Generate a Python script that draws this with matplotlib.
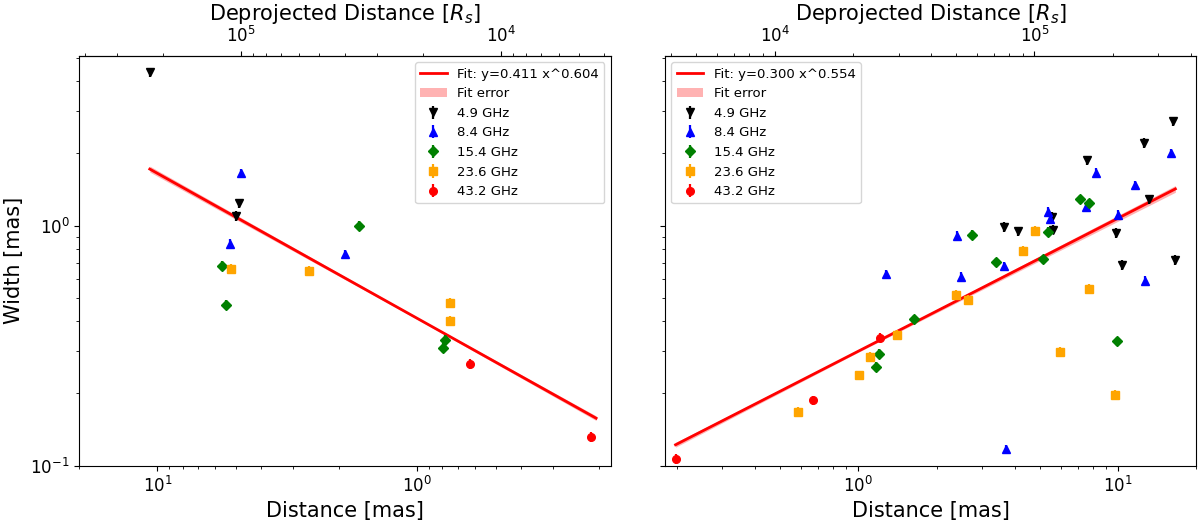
import matplotlib
matplotlib.use("Agg")
import matplotlib.pyplot as plt
import numpy as np
from matplotlib.ticker import NullFormatter, LogLocator

RS_PER_MAS = 2.1e4

freqs = ["4.9 GHz", "8.4 GHz", "15.4 GHz", "23.6 GHz", "43.2 GHz"]
colors = ["black", "blue", "green", "orange", "red"]
markers = ["v", "^", "D", "s", "o"]

# left panel (counter-jet side)
cj_dist = {
    "4.9 GHz": [10.7, 4.85, 5.0],
    "8.4 GHz": [4.78, 5.25, 1.89],
    "15.4 GHz": [5.62, 5.46, 1.68, 0.794, 0.78],
    "23.6 GHz": [5.19, 2.6, 0.746, 0.746],
    "43.2 GHz": [0.625, 0.214],
}
cj_width = {
    "4.9 GHz": [4.35, 1.24, 1.10],
    "8.4 GHz": [1.65, 0.839, 0.76],
    "15.4 GHz": [0.681, 0.469, 1.0, 0.31, 0.335],
    "23.6 GHz": [0.66, 0.65, 0.478, 0.402],
    "43.2 GHz": [0.266, 0.132],
}
cj_fit = (0.411, 0.604)
cj_fit_err = (0.004, 0.008)
cj_fit_range = (10.7, 0.205)

# right panel (jet side)
j_dist = {
    "4.9 GHz": [16.3, 12.6, 7.57, 13.1, 5.55, 5.59, 3.63, 4.13, 9.84, 10.3, 16.5],
    "8.4 GHz": [15.9, 8.24, 11.6, 7.54, 5.37, 5.46, 9.97, 2.39, 3.65, 2.48,
                1.28, 12.7, 3.70],
    "15.4 GHz": [7.12, 7.72, 5.37, 2.73, 3.39, 5.12, 1.64, 1.20, 1.17, 9.90],
    "23.6 GHz": [4.80, 4.32, 2.38, 2.65, 7.69, 1.41, 1.11, 1.01, 5.96, 9.70,
                 0.586],
    "43.2 GHz": [1.21, 0.669, 0.198],
}
j_width = {
    "4.9 GHz": [2.72, 2.21, 1.87, 1.29, 1.09, 0.962, 0.99, 0.947, 0.932, 0.687,
                0.72],
    "8.4 GHz": [2.0, 1.66, 1.47, 1.20, 1.14, 1.07, 1.11, 0.908, 0.676, 0.612,
                0.628, 0.589, 0.117],
    "15.4 GHz": [1.29, 1.24, 0.944, 0.917, 0.703, 0.725, 0.407, 0.293, 0.258,
                 0.330],
    "23.6 GHz": [0.953, 0.786, 0.514, 0.492, 0.547, 0.352, 0.284, 0.238, 0.298,
                 0.198, 0.168],
    "43.2 GHz": [0.342, 0.187, 0.107],
}
j_fit = (0.300, 0.554)
j_fit_err = (0.003, 0.008)
j_fit_range = (0.198, 16.6)

rel_err = 0.045


def draw_panel(ax, dist, width, fit, fit_err, fit_range, legend_loc):
    a, b = fit
    da, db = fit_err
    x = np.logspace(np.log10(min(fit_range)), np.log10(max(fit_range)), 200)
    ax.plot(x, a * x**b, color="red", lw=2, label=f"Fit: y={a:.3f} x^{b:.3f}")
    combos = np.array([(a + sa * da) * x ** (b + sb * db)
                       for sa in (-1, 1) for sb in (-1, 1)])
    ax.fill_between(x, combos.min(axis=0), combos.max(axis=0), color="red",
                    alpha=0.3, lw=0, label="Fit error")
    for f, c, m in zip(freqs, colors, markers):
        w = np.array(width[f])
        ax.errorbar(dist[f], w, yerr=rel_err * w, fmt=m, color=c, ms=5.5,
                    elinewidth=1.6, capsize=0, label=f)
    ax.set_xscale("log")
    ax.set_yscale("log")
    ax.set_ylim(0.1, 5.1)
    ax.set_xlabel("Distance [mas]", fontsize=15)
    ax.tick_params(labelsize=12)
    sec = ax.secondary_xaxis("top", functions=(lambda d: d * RS_PER_MAS,
                                               lambda r: r / RS_PER_MAS))
    sec.set_xlabel("Deprojected Distance [$R_s$]", fontsize=15)
    sec.set_xticks([1e4, 1e5])
    sec.xaxis.set_minor_locator(LogLocator(base=10, subs=np.arange(2, 10)))
    sec.xaxis.set_minor_formatter(NullFormatter())
    sec.tick_params(labelsize=12)
    ax.legend(loc=legend_loc, fontsize=9.5)


fig = plt.figure(figsize=(12, 5.21), dpi=100)
ax1 = fig.add_axes([0.066, 0.106, 0.443, 0.787])
ax2 = fig.add_axes([0.554, 0.106, 0.443, 0.787], sharey=ax1)

draw_panel(ax1, cj_dist, cj_width, cj_fit, cj_fit_err, cj_fit_range,
           "upper right")
ax1.set_xlim(20, 0.18)
ax1.set_ylabel("Width [mas]", fontsize=15)

draw_panel(ax2, j_dist, j_width, j_fit, j_fit_err, j_fit_range, "upper left")
ax2.set_xlim(0.18, 20)
plt.setp(ax2.get_yticklabels(), visible=False)

fig.savefig("out.png", dpi=100)
